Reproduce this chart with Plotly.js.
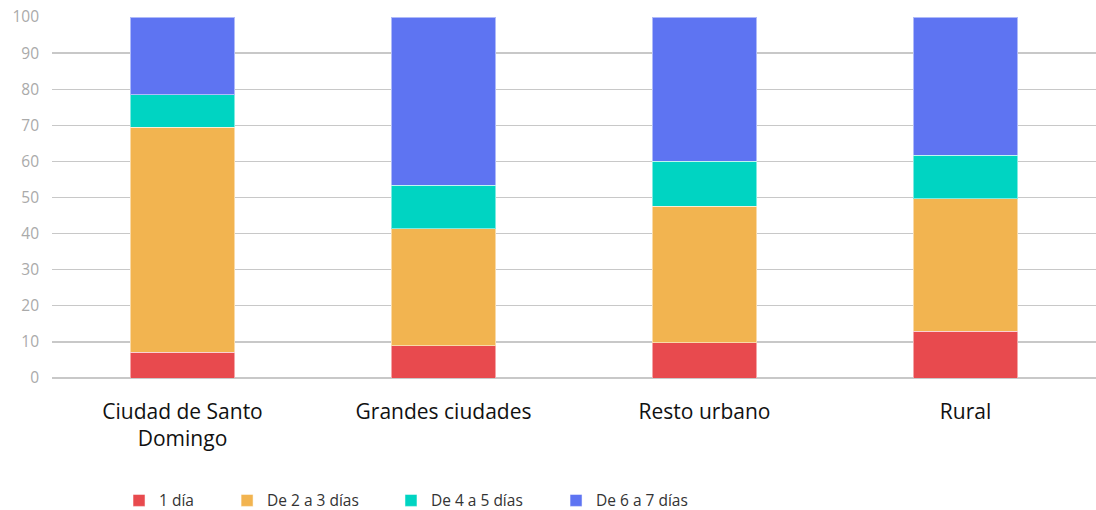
<!DOCTYPE html>
<html><head><meta charset="utf-8">
<script src="https://cdn.plot.ly/plotly-3.0.1.min.js"></script>
<style>html,body{margin:0;padding:0;background:#fff}#chart{width:1096px;height:510px}</style>
</head><body><div id="chart"></div>
<script>
const categories = ["Ciudad de Santo<br>Domingo", "Grandes ciudades", "Resto urbano", "Rural"];
const seriesNames = ["1 día", "De 2 a 3 días", "De 4 a 5 días", "De 6 a 7 días"];
const dia1 = [7.2, 8.9, 9.8, 12.9];
const dias2a3 = [62.2, 32.4, 37.8, 36.7];
const dias4a5 = [9.1, 12.1, 12.5, 12.1];
const dias6a7 = [21.5, 46.6, 39.9, 38.3];
const colors = ["#E84A4E", "#F2B450", "#00D4C2", "#5E74F2"];
const yTicks = [0,10,20,30,40,50,60,70,80,90,100];

const values = [dia1, dias2a3, dias4a5, dias6a7];
const legendIds = ['legend', 'legend2', 'legend3', 'legend4'];
const legendX = [0.0642, 0.1677, 0.3247, 0.4828];

const traces = values.map((v, i) => ({
  type: 'bar', x: categories, y: v, name: seriesNames[i], legend: legendIds[i],
  marker: {color: colors[i], line: {color: 'rgba(255,255,255,0.5)', width: 1}},
  hoverinfo: 'none'
}));

const layout = {
  barmode: 'stack', bargap: 0.598,
  width: 1096, height: 510,
  margin: {l: 52, r: 0, t: 17, b: 132},
  paper_bgcolor: '#fff', plot_bgcolor: '#fff',
  font: {family: '"Open Sans", sans-serif'},
  xaxis: {tickfont: {size: 21, color: '#111'}, showgrid: false, showline: false, ticks: '', automargin: false, ticklabelstandoff: 19},
  yaxis: {range: [0, 100], tickvals: yTicks, ticktext: yTicks.map(String),
    tickfont: {size: 15.5, color: '#aaa'}, gridcolor: '#c8c8c8', gridwidth: 1.3,
    zeroline: true, zerolinecolor: '#c8c8c8', zerolinewidth: 1.3, ticklabelstandoff: 12, automargin: false},
  showlegend: true
};
legendIds.forEach((id, i) => {
  layout[id] = {orientation: 'h', x: legendX[i], xanchor: 'left', yref: 'container', y: 0.018, yanchor: 'middle',
    font: {size: 15.5, color: '#333'}, bgcolor: 'rgba(0,0,0,0)'};
});
Plotly.newPlot('chart', traces, layout, {displayModeBar: false, staticPlot: true});
</script></body></html>
